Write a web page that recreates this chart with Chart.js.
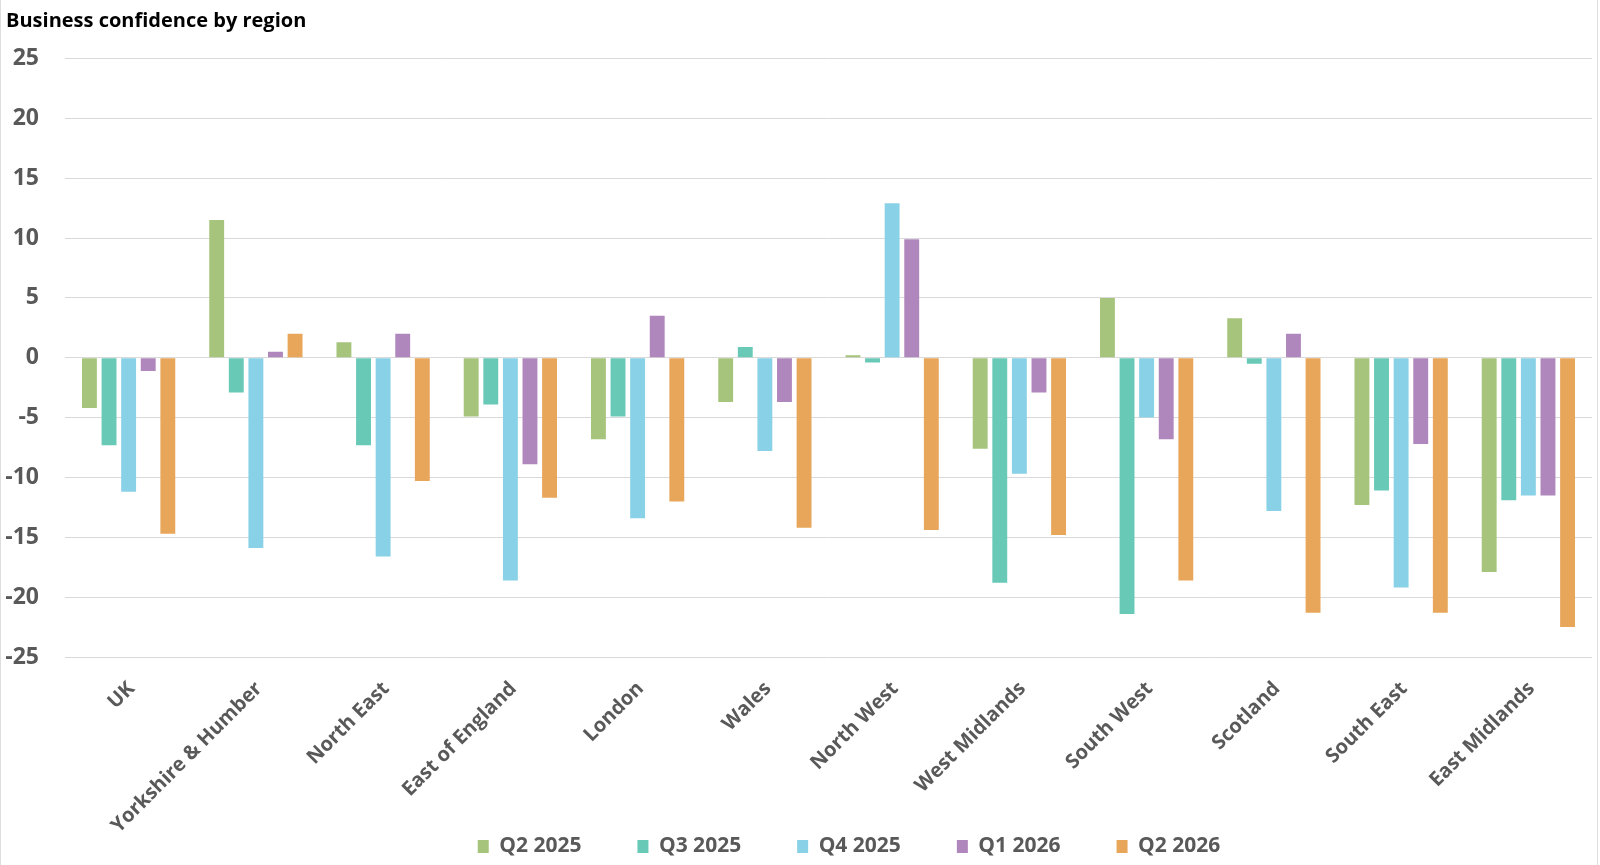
<!DOCTYPE html>
<html>
<head>
<meta charset="utf-8">
<script src="https://cdn.jsdelivr.net/npm/chart.js@4/dist/chart.umd.min.js"></script>
<style>
    html, body { margin: 0; padding: 0; background: #ffffff; }
    canvas { display: block; }
    #wrap { position: relative; width: 1600px; height: 865px; }
    #frame {
        position: absolute; left: 0; top: 0; width: 1596px; height: 865px;
        border-left: 1px solid #dedede; border-right: 1px solid #dedede;
        pointer-events: none;
    }
</style>
</head>
<body>
<div id="wrap">
    <canvas id="chart" width="1600" height="865"></canvas>
    <div id="frame"></div>
</div>
<script>
// data
const regions = ['UK', 'Yorkshire & Humber', 'North East', 'East of England', 'London', 'Wales',
    'North West', 'West Midlands', 'South West', 'Scotland', 'South East', 'East Midlands'];

const q2_2025 = [-4.2, 11.5, 1.3, -4.9, -6.8, -3.7, 0.2, -7.6, 5.0, 3.3, -12.3, -17.9];
const q3_2025 = [-7.3, -2.9, -7.3, -3.9, -4.9, 0.9, -0.4, -18.8, -21.4, -0.5, -11.1, -11.9];
const q4_2025 = [-11.2, -15.9, -16.6, -18.6, -13.4, -7.8, 12.9, -9.7, -5.0, -12.8, -19.2, -11.5];
const q1_2026 = [-1.1, 0.5, 2.0, -8.9, 3.5, -3.7, 9.9, -2.9, -6.8, 2.0, -7.2, -11.5];
const q2_2026 = [-14.7, 2.0, -10.3, -11.7, -12.0, -14.2, -14.4, -14.8, -18.6, -21.3, -21.3, -22.5];

const seriesNames = ['Q2 2025', 'Q3 2025', 'Q4 2025', 'Q1 2026', 'Q2 2026'];
const seriesColors = ['#a6c47c', '#68c9b7', '#89d1e6', '#b087bc', '#e8a65a'];

const FONT = '"Open Sans", "Noto Sans", sans-serif';
const TEXT_GREY = '#595959';

// helper
function makeDataset(label, values, color) {
    return {
        label: label,
        data: values,
        backgroundColor: color,
        borderWidth: 0,
        barPercentage: 0.76,
        categoryPercentage: 0.77,
    };
}

const allValues = [q2_2025, q3_2025, q4_2025, q1_2026, q2_2026];
let datasets = [];
for (let i = 0; i < seriesNames.length; i++) {
    datasets.push(makeDataset(seriesNames[i], allValues[i], seriesColors[i]));
}

// the legend in the reference sits a bit right of centre and low
const legendShift = {
    id: 'legendShift',
    afterLayout: function (chart) {
        if (chart.legend) {
            chart.legend.left += 50;
            chart.legend.right += 50;
            chart.legend.top += 2;
            chart.legend.bottom += 2;
        }
    }
};

const ctx = document.getElementById('chart');
const chart = new Chart(ctx, {
    type: 'bar',
    data: {
        labels: regions,
        datasets: datasets,
    },
    plugins: [legendShift],
    options: {
        responsive: false,
        animation: false,
        layout: {
            padding: { left: 6, right: 8, top: 0, bottom: 0 },
        },
        scales: {
            x: {
                grid: { display: false },
                border: { display: false },
                ticks: {
                    minRotation: 45,
                    maxRotation: 45,
                    autoSkip: false,
                    padding: 12,
                    labelOffset: 3,
                    color: TEXT_GREY,
                    font: { family: FONT, size: 20, weight: 'bold' },
                },
                afterFit: function (scale) {
                    scale.height = 121;
                },
                afterUpdate: function (scale) {
                    // long rotated names run into the legend band, don't clip them
                    scale._computeLabelArea = function () { return undefined; };
                },
            },
            y: {
                min: -25,
                max: 25,
                ticks: {
                    stepSize: 5,
                    padding: 26,
                    color: TEXT_GREY,
                    font: { family: FONT, size: 23, weight: 'bold' },
                },
                grid: {
                    color: '#d9d9d9',
                    lineWidth: 1,
                    drawTicks: false,
                },
                border: { display: false },
                afterFit: function (scale) {
                    scale.width = 59;
                },
            },
        },
        plugins: {
            title: {
                display: true,
                text: 'Business confidence by region',
                align: 'start',
                color: '#000000',
                font: { family: FONT, size: 20, weight: 'bold' },
                padding: { top: 9, bottom: 25.5 },
            },
            legend: {
                position: 'bottom',
                labels: {
                    boxWidth: 11,
                    boxHeight: 13,
                    padding: 56,
                    color: TEXT_GREY,
                    font: { family: FONT, size: 21, weight: 'bold' },
                },
            },
            tooltip: { enabled: false },
        },
    },
});
</script>
</body>
</html>
